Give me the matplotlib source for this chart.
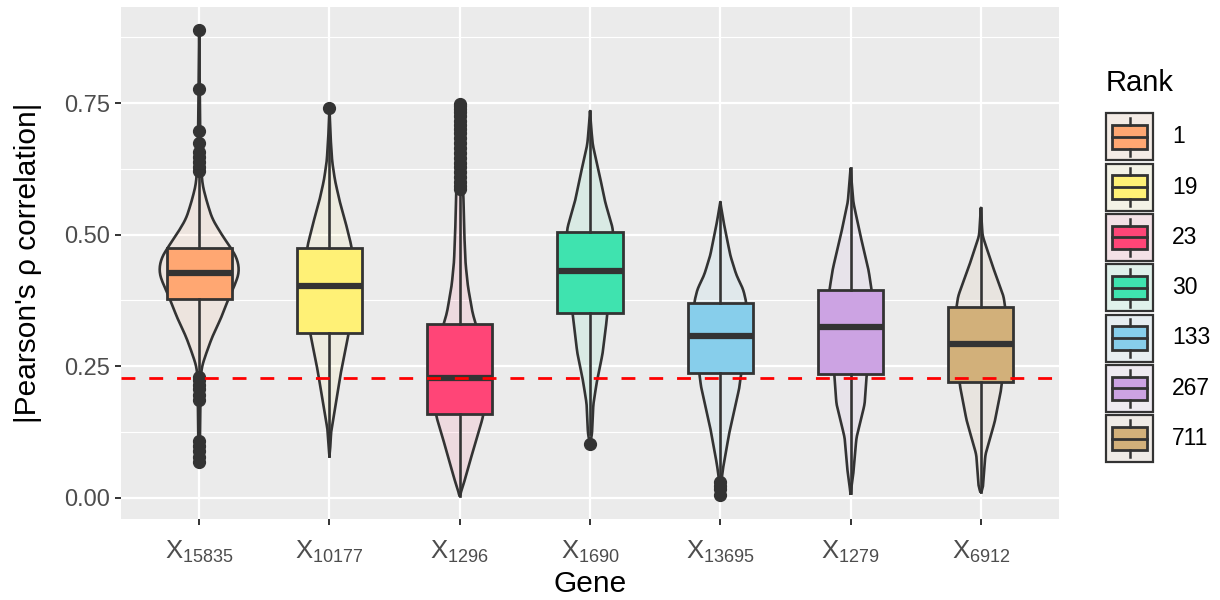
import matplotlib
matplotlib.use('Agg')
import matplotlib.pyplot as plt
from matplotlib.patches import Rectangle
import numpy as np

plt.rcParams['font.family'] = ['Liberation Sans', 'DejaVu Sans']
plt.rcParams['mathtext.fontset'] = 'custom'
plt.rcParams['mathtext.rm'] = 'Liberation Sans'
plt.rcParams['mathtext.it'] = 'Liberation Sans:italic'

# genes (x axis) and their rank (legend)
genes = ['15835', '10177', '1296', '1690', '13695', '1279', '6912']
ranks = ['1', '19', '23', '30', '133', '267', '711']
colors = ['#FFA772', '#FFF176', '#FF4577', '#3FE3AF', '#87CEEB', '#CCA3E3', '#D2B07A']

# boxplot statistics
q1 = [0.378, 0.314, 0.159, 0.351, 0.237, 0.235, 0.219]
med = [0.428, 0.403, 0.227, 0.431, 0.308, 0.324, 0.292]
q3 = [0.474, 0.474, 0.330, 0.505, 0.371, 0.394, 0.362]
wlo = [0.235, 0.079, 0.004, 0.121, 0.038, 0.008, 0.011]
whi = [0.620, 0.714, 0.583, 0.735, 0.562, 0.626, 0.551]
outliers = [
    [0.889, 0.777, 0.697, 0.674, 0.658, 0.648, 0.638, 0.628, 0.621,
     0.230, 0.223, 0.215, 0.206, 0.196, 0.185, 0.107, 0.098, 0.088, 0.078, 0.068],
    [0.741],
    [0.748, 0.744, 0.739, 0.733, 0.725, 0.717, 0.709, 0.701, 0.693, 0.683, 0.674,
     0.665, 0.655, 0.646, 0.637, 0.628, 0.619, 0.610, 0.601, 0.593, 0.587],
    [0.102],
    [0.030, 0.023, 0.017, 0.005],
    [],
    [],
]

# violin outlines: (y, relative density) knots
vio_y = [
    [0.065, 0.10, 0.18, 0.23, 0.248, 0.273, 0.306, 0.343, 0.378, 0.403, 0.428, 0.453, 0.474, 0.498, 0.53, 0.562, 0.593, 0.623, 0.70, 0.889],
    [0.079, 0.10, 0.127, 0.178, 0.242, 0.312, 0.353, 0.403, 0.443, 0.479, 0.523, 0.562, 0.603, 0.639, 0.683, 0.741],
    [0.004, 0.018, 0.038, 0.095, 0.153, 0.203, 0.253, 0.303, 0.351, 0.403, 0.447, 0.503, 0.583, 0.653, 0.748],
    [0.102, 0.121, 0.178, 0.223, 0.274, 0.345, 0.403, 0.433, 0.473, 0.511, 0.562, 0.613, 0.671, 0.703, 0.735],
    [0.005, 0.038, 0.063, 0.127, 0.21, 0.237, 0.253, 0.303, 0.353, 0.371, 0.396, 0.423, 0.46, 0.524, 0.562],
    [0.008, 0.05, 0.114, 0.178, 0.235, 0.283, 0.323, 0.363, 0.396, 0.434, 0.499, 0.562, 0.626],
    [0.011, 0.017, 0.082, 0.146, 0.21, 0.219, 0.253, 0.303, 0.343, 0.383, 0.44, 0.498, 0.551],
]
vio_d = [
    [0, 0.8, 1.2, 1.8, 2.5, 6.7, 13, 22, 29, 35, 39.7, 38, 31.7, 23, 13, 7.7, 3.5, 2, 1, 0],
    [0, 1, 1.7, 6.2, 11.7, 19, 23, 25, 24, 21.7, 16, 10.3, 5.5, 2.7, 1.2, 0],
    [0, 2.5, 5.7, 14, 23, 27, 26, 20, 12.7, 8, 5.7, 4.5, 3.5, 2, 0],
    [0, 2, 3.3, 7, 12.5, 17, 20, 22, 23, 22.7, 15, 9.5, 2.7, 1.2, 0],
    [0, 1.5, 3.3, 9.3, 19, 20.7, 23, 25, 25.5, 25.8, 22.7, 16, 10, 3.3, 0],
    [0, 3, 5.8, 14, 16, 21, 23, 22.5, 20.8, 17.7, 9.7, 2.7, 0],
    [0, 2, 4.5, 14, 20.5, 20.7, 24, 26, 25.5, 22.5, 11.7, 1.7, 0],
]
cutoff = 0.227

dark = '#333333'
bg = '#EBEBEB'
dens_scale = 1 / 129.0  # relative density -> x units


def blend(c, alpha, base):
    c = np.array(matplotlib.colors.to_rgb(c))
    b = np.array(matplotlib.colors.to_rgb(base))
    return tuple(alpha * c + (1 - alpha) * b)


fig = plt.figure(figsize=(12.2, 6), dpi=100)
ax = fig.add_axes([121 / 1220, 1 - 519 / 600, 938 / 1220, 511.6 / 600])
ax.set_facecolor(bg)

pos = np.arange(1, len(genes) + 1)

# violins
for i, p in enumerate(pos):
    y = np.array(vio_y[i])
    d = np.array(vio_d[i]) * dens_scale
    yy = np.linspace(y[0], y[-1], 300)
    dd = np.interp(yy, y, d)
    k = np.ones(9) / 9
    dd = np.convolve(np.pad(dd, 4, mode='edge'), k, mode='valid')
    dd[0] = dd[-1] = 0
    ax.fill_betweenx(yy, p - dd, p + dd, facecolor=colors[i], alpha=0.1, zorder=2)
    ax.plot(np.r_[p - dd, (p + dd)[::-1], p - dd[0]], np.r_[yy, yy[::-1], yy[0]],
            color=dark, lw=1.9, zorder=2.1)

# boxplots
stats = []
for i in range(len(genes)):
    stats.append(dict(med=med[i], q1=q1[i], q3=q3[i], whislo=wlo[i], whishi=whi[i],
                      fliers=outliers[i]))
bp = ax.bxp(stats, positions=pos, widths=0.5, patch_artist=True, showcaps=False,
            boxprops=dict(edgecolor=dark, linewidth=2.0),
            whiskerprops=dict(color=dark, linewidth=1.9),
            medianprops=dict(color=dark, linewidth=4.5, solid_capstyle='butt'),
            flierprops=dict(marker='o', markerfacecolor=dark, markeredgecolor=dark,
                            markersize=8.5, linestyle='none'),
            zorder=3)
for patch, c in zip(bp['boxes'], colors):
    patch.set_facecolor(c)

ax.axhline(cutoff, color='#FF0000', lw=2.0, dashes=(5.0, 5.0), zorder=4)

ax.set_xlim(0.4, 7.6)
ax.set_ylim(-0.0405, 0.932)
ax.set_yticks([0, 0.25, 0.5, 0.75])
ax.set_yticklabels(['0.00', '0.25', '0.50', '0.75'])
ax.set_yticks([0.125, 0.375, 0.625, 0.875], minor=True)
ax.set_xticks(pos)
ax.set_xticklabels([r'$\mathrm{X}_{\mathrm{%s}}$' % g for g in genes])
ax.grid(True, which='major', color='white', lw=1.6, zorder=0)
ax.grid(True, which='minor', axis='y', color='white', lw=0.8, zorder=0)
ax.set_axisbelow(True)
for s in ax.spines.values():
    s.set_visible(False)
ax.tick_params(axis='both', which='major', color=dark, length=4.5, width=1.4,
               labelcolor='#4D4D4D', labelsize=17)
ax.tick_params(axis='x', labelsize=18.5, pad=10)
ax.tick_params(axis='y', which='minor', length=0)
ax.set_xlabel('Gene', fontsize=21.5, va='center')
ax.xaxis.set_label_coords(0.5, (519 - 584) / 511.6)
ax.set_ylabel("|Pearson's ρ correlation|", fontsize=21.5, va='center')
ax.yaxis.set_label_coords((28 - 121) / 938, 0.5)

# legend drawn in pixel coordinates
lg = fig.add_axes([0, 0, 1, 1], zorder=5)
lg.set_xlim(0, 1220)
lg.set_ylim(600, 0)
lg.axis('off')
lg.text(1106, 83, 'Rank', fontsize=21, va='center', ha='left')
kx, ks = 1106, 47
for i, (r, c) in enumerate(zip(ranks, colors)):
    ky = 113.3 + 50.3 * i
    lg.add_patch(Rectangle((kx, ky), ks, ks, facecolor=blend(c, 0.1, '#F2F2F2'),
                           edgecolor=dark, lw=1.6))
    lg.add_patch(Rectangle((kx + 0.125 * ks, ky + 0.25 * ks), 0.75 * ks, 0.5 * ks,
                           facecolor=c, edgecolor=dark, lw=2.0))
    lg.plot([kx + ks / 2] * 2, [ky + 0.1 * ks, ky + 0.25 * ks], color=dark, lw=1.8)
    lg.plot([kx + ks / 2] * 2, [ky + 0.75 * ks, ky + 0.9 * ks], color=dark, lw=1.8)
    lg.plot([kx + 0.125 * ks, kx + 0.875 * ks], [ky + ks / 2] * 2, color=dark, lw=2.0)
    lg.text(1172, ky + ks / 2, r, fontsize=16.5, va='center', ha='left')

fig.savefig('out.png', dpi=100)
